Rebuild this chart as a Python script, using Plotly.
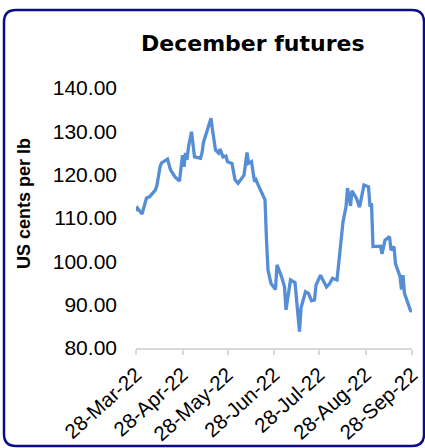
import plotly.graph_objects as go

dates = [
    "2022-03-28", "2022-03-29", "2022-04-01", "2022-04-04", "2022-04-06", "2022-04-10",
    "2022-04-11", "2022-04-13", "2022-04-14", "2022-04-18", "2022-04-20", "2022-04-23",
    "2022-04-26", "2022-04-28", "2022-04-29", "2022-04-30", "2022-05-01", "2022-05-02",
    "2022-05-04", "2022-05-05", "2022-05-06", "2022-05-10", "2022-05-11", "2022-05-12",
    "2022-05-14", "2022-05-17", "2022-05-18", "2022-05-20", "2022-05-22", "2022-05-23",
    "2022-05-25", "2022-05-27", "2022-05-28", "2022-05-31", "2022-06-02", "2022-06-04",
    "2022-06-08", "2022-06-10", "2022-06-11", "2022-06-13", "2022-06-15", "2022-06-16",
    "2022-06-18", "2022-06-22", "2022-06-23", "2022-06-24", "2022-06-26", "2022-06-29",
    "2022-06-30", "2022-07-03", "2022-07-05", "2022-07-06", "2022-07-09", "2022-07-12",
    "2022-07-15", "2022-07-16", "2022-07-19", "2022-07-21", "2022-07-23", "2022-07-25",
    "2022-07-26", "2022-07-29", "2022-08-02", "2022-08-04", "2022-08-06", "2022-08-09",
    "2022-08-13", "2022-08-15", "2022-08-16", "2022-08-18", "2022-08-19", "2022-08-22",
    "2022-08-24", "2022-08-27", "2022-08-30", "2022-08-31", "2022-09-01", "2022-09-02",
    "2022-09-07", "2022-09-08", "2022-09-10", "2022-09-13", "2022-09-14", "2022-09-16",
    "2022-09-17", "2022-09-20", "2022-09-21", "2022-09-22", "2022-09-23", "2022-09-27",
    "2022-09-28",
]
prices = [
    111.6, 112.3, 110.9, 114.6, 114.9, 116.5,
    117.6, 121.8, 122.7, 123.6, 121.1, 119.5,
    118.5, 124.5, 121.8, 125.0, 123.4, 126.4,
    129.9, 126.4, 124.1, 123.8, 125.0, 127.5,
    129.6, 133.0, 130.3, 125.7, 125.0, 125.9,
    124.1, 124.3, 123.0, 122.6, 118.8, 118.0,
    119.9, 125.1, 122.6, 123.0, 118.4, 118.8,
    117.2, 114.2, 104.9, 98.0, 94.9, 93.5,
    99.2, 96.5, 94.1, 88.8, 95.7, 95.1,
    83.8, 89.2, 93.0, 92.6, 90.9, 91.1,
    94.5, 96.8, 94.1, 94.8, 96.1, 95.7,
    109.1, 112.6, 116.9, 112.8, 116.3, 114.5,
    112.5, 117.6, 117.2, 112.6, 113.4, 103.4,
    103.5, 101.7, 104.9, 105.7, 102.6, 103.4,
    99.4, 96.5, 93.5, 96.8, 92.6, 88.6,
    88.5,
]
tick_dates = ["2022-03-28", "2022-04-28", "2022-05-28", "2022-06-28",
              "2022-07-28", "2022-08-28", "2022-09-28"]
tick_labels = ["28-Mar-22", "28-Apr-22", "28-May-22", "28-Jun-22",
               "28-Jul-22", "28-Aug-22", "28-Sep-22"]
y_ticks = [80, 90, 100, 110, 120, 130, 140]
y_tick_labels = ["80.00", "90.00", "100.00", "110.00", "120.00", "130.00", "140.00"]

W, H = 425, 448
L, R, T, B = 136, 13, 88, 100
pw, ph = W - L - R, H - T - B


def px(x):
    return (x - L) / pw


def py(y):
    return (H - B - y) / ph


fig = go.Figure()
fig.add_trace(go.Scatter(
    x=dates, y=prices, mode="lines",
    line=dict(color="#558ED5", width=3.3),
    hoverinfo="skip", showlegend=False,
))

# rounded frame
x0, x1, y0, y1, r = 4, 424, 10, 446, 12
path = (
    f"M {px(x0 + r)},{py(y0)} L {px(x1 - r)},{py(y0)} "
    f"Q {px(x1)},{py(y0)} {px(x1)},{py(y0 + r)} "
    f"L {px(x1)},{py(y1 - r)} Q {px(x1)},{py(y1)} {px(x1 - r)},{py(y1)} "
    f"L {px(x0 + r)},{py(y1)} Q {px(x0)},{py(y1)} {px(x0)},{py(y1 - r)} "
    f"L {px(x0)},{py(y0 + r)} Q {px(x0)},{py(y0)} {px(x0 + r)},{py(y0)} Z"
)
fig.add_shape(type="path", path=path, xref="paper", yref="paper",
              line=dict(color="#0C0C8A", width=2.5), layer="above")

fig.add_annotation(text="<b>December futures</b>", xref="paper", yref="paper",
                   x=px(253), y=py(44), showarrow=False,
                   xanchor="center", yanchor="middle",
                   font=dict(family="DejaVu Sans", size=22, color="#000000"))
fig.add_annotation(text="<b>US cents per lb</b>", xref="paper", yref="paper",
                   x=px(24), y=py(204), showarrow=False, textangle=-90,
                   xanchor="center", yanchor="middle",
                   font=dict(family="Liberation Sans", size=18, color="#000000"))

fig.update_layout(
    width=W, height=H,
    margin=dict(l=L, r=R, t=T, b=B, pad=0, autoexpand=False),
    paper_bgcolor="white", plot_bgcolor="white",
    xaxis=dict(
        type="date", range=["2022-03-28", "2022-09-28"],
        tickmode="array", tickvals=tick_dates, ticktext=tick_labels,
        tickangle=-42, showgrid=False, zeroline=False, automargin=False,
        showline=True, linecolor="#D9D9D9", linewidth=1.5,
        ticks="outside", ticklen=5, tickcolor="#D9D9D9", tickwidth=1.5,
        tickfont=dict(family="Liberation Sans", size=20.5, color="#000000"),
    ),
    yaxis=dict(
        range=[80, 140], tickmode="array", tickvals=y_ticks, ticktext=y_tick_labels,
        showgrid=False, zeroline=False, showline=False, ticks="",
        ticklabelstandoff=18, automargin=False,
        tickfont=dict(family="Liberation Sans", size=21, color="#000000"),
    ),
)

fig.write_html(
    "out.html",
    config={"displayModeBar": False},
    post_script="document.body.style.margin='0';document.body.style.overflow='hidden';",
)
